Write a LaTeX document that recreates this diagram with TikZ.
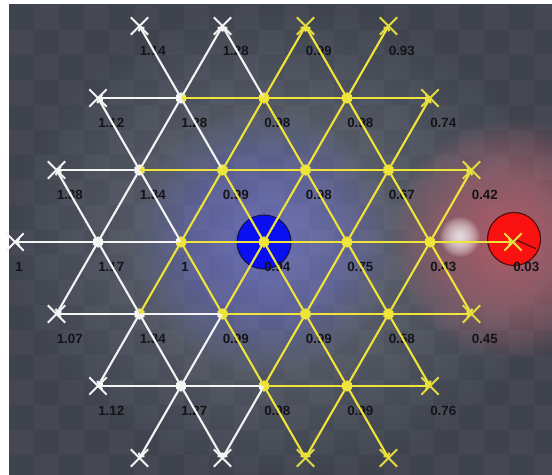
\documentclass[tikz,border=0pt]{standalone}
\usepackage{fontspec}
\newfontfamily\costfont{Liberation Sans}
\usepackage{xcolor}
\definecolor{bgdark}{HTML}{3F434E}
\definecolor{bgmid}{HTML}{6A6E7B}
\definecolor{edgeWhite}{HTML}{F4F4F4}
\definecolor{edgeYellow}{HTML}{EEE43A}
\definecolor{glowBlue}{HTML}{8088E8}
\definecolor{glowRed}{HTML}{E27A86}
\definecolor{startBlue}{HTML}{0A0FF2}
\definecolor{rimBlue}{HTML}{141450}
\definecolor{goalRed}{HTML}{FA1212}
\definecolor{rimRed}{HTML}{4A0E0E}
\definecolor{labelInk}{HTML}{141418}
\usetikzlibrary{calc,arrows.meta,shapes.misc}

\begin{document}
\begin{tikzpicture}[x=0.025cm, y=0.025cm, >={Straight Barb[length=2pt,width=4.5pt]},
    edgeW/.style={<->, line width=1.5pt, edgeWhite},
    edgeY/.style={<->, line width=1.5pt, edgeYellow},
    xmark/.style={cross out, draw, line width=1.3pt, minimum size=11pt, inner sep=0pt},
    cost/.style={anchor=west, inner sep=0pt, labelInk, font=\costfont\bfseries\fontsize{9.5}{11}\selectfont}]
    % Parameters
    \def\ux{41.5}  % half step along a row
    \def\uy{72}    % row height
    \def\ox{264}   % start cell
    \def\oy{232}

    % Canvas
    \useasboundingbox (0,0) rectangle (552,474);
    \fill[white] (0,0) rectangle (552,474);
    \shade[inner color=bgmid, outer color=bgdark] (9,0) rectangle (552,469);
    \begin{scope}
        \clip (9,0) rectangle (552,469);
        \foreach \i in {0,...,21} {
            \foreach \j in {0,...,18} {
                \pgfmathtruncatemacro{\odd}{mod(\i+\j,2)}
                \ifnum\odd=1
                    \fill[white, opacity=0.03] ({9+\i*25}, {469-(\j+1)*25}) rectangle ++(25,25);
                \fi
            }
        }
    \end{scope}

    % Lattice cells with their costs
    \def\costs{-3/3/1.14, -1/3/1.28, 1/3/0.99, 3/3/0.93,
        -4/2/1.12, -2/2/1.28, 0/2/0.98, 2/2/0.98, 4/2/0.74,
        -5/1/1.38, -3/1/1.34, -1/1/0.99, 1/1/0.98, 3/1/0.67, 5/1/0.42,
        -6/0/1, -4/0/1.17, -2/0/1, 0/0/0.94, 2/0/0.75, 4/0/0.43, 6/0/0.03,
        -5/-1/1.07, -3/-1/1.34, -1/-1/0.99, 1/-1/0.99, 3/-1/0.58, 5/-1/0.45,
        -4/-2/1.12, -2/-2/1.27, 0/-2/0.98, 2/-2/0.99, 4/-2/0.76}
    \foreach \col/\row/\t in \costs {
        \coordinate (v\col r\row) at ({\ox+\col*\ux}, {\oy+\row*\uy});
    }
    \foreach \col in {-3,-1,1,3} {
        \coordinate (v\col r-3) at ({\ox+\col*\ux}, {\oy-3*\uy});
    }
    \coordinate (goal) at (514,235);
    \coordinate (spark) at (460,237);

    % Glows
    \foreach \rr in {132,129,...,3} {
        \fill[glowBlue, opacity=0.025] (v0r0) circle (\rr);
    }
    \foreach \rr in {120,117,...,3} {
        \fill[glowRed, opacity=0.03] (goal) circle (\rr);
    }
    \foreach \rr in {20,19,...,1} {
        \fill[white, opacity=0.08] (spark) circle (\rr);
    }

    % Start and goal discs
    \draw[fill=startBlue, draw=rimBlue, line width=0.8pt] (v0r0) circle (27);
    \draw[fill=goalRed, draw=rimRed, line width=0.8pt] (goal) circle (26.5);
    \draw[rimRed, line width=0.8pt] (goal) -- ++(-24:24);

    % Cost labels
    \foreach \col/\row/\t in \costs {
        \node[cost] at ($(v\col r\row)+(0,-25)$) {\t};
    }

    % Edges
    \foreach \p/\q in {v-4r2/v-2r2, v-5r1/v-3r1, v-6r0/v-4r0, v-4r0/v-2r0,
        v-5r-1/v-3r-1, v-3r-1/v-1r-1, v-4r-2/v-2r-2, v-2r-2/v0r-2,
        v-3r3/v-2r2, v-1r3/v-2r2, v-1r3/v0r2,
        v-4r2/v-3r1, v-2r2/v-3r1, v-2r2/v-1r1,
        v-5r1/v-4r0, v-3r1/v-4r0, v-3r1/v-2r0,
        v-4r0/v-5r-1, v-4r0/v-3r-1,
        v-3r-1/v-4r-2, v-3r-1/v-2r-2, v-1r-1/v-2r-2,
        v-2r-2/v-3r-3, v-2r-2/v-1r-3, v0r-2/v-1r-3} {
        \draw[edgeW] (\p) -- (\q);
    }
    \foreach \p/\q in {v-2r2/v0r2, v0r2/v2r2, v2r2/v4r2,
        v-3r1/v-1r1, v-1r1/v1r1, v1r1/v3r1, v3r1/v5r1,
        v-2r0/v0r0, v0r0/v2r0, v2r0/v4r0, v4r0/v6r0,
        v-1r-1/v1r-1, v1r-1/v3r-1, v3r-1/v5r-1,
        v0r-2/v2r-2, v2r-2/v4r-2,
        v1r3/v0r2, v1r3/v2r2, v3r3/v2r2,
        v0r2/v-1r1, v0r2/v1r1, v2r2/v1r1, v2r2/v3r1, v4r2/v3r1,
        v-1r1/v-2r0, v-1r1/v0r0, v1r1/v0r0, v1r1/v2r0, v3r1/v2r0, v3r1/v4r0, v5r1/v4r0,
        v-2r0/v-3r-1, v-2r0/v-1r-1, v0r0/v-1r-1, v0r0/v1r-1, v2r0/v1r-1, v2r0/v3r-1, v4r0/v3r-1, v4r0/v5r-1,
        v-1r-1/v0r-2, v1r-1/v0r-2, v1r-1/v2r-2, v3r-1/v2r-2, v3r-1/v4r-2,
        v0r-2/v1r-3, v2r-2/v1r-3, v2r-2/v3r-3} {
        \draw[edgeY] (\p) -- (\q);
    }

    % Frontier marks
    \foreach \p in {v-3r3, v-1r3, v-4r2, v-5r1, v-6r0, v-5r-1, v-4r-2, v-3r-3, v-1r-3} {
        \node[xmark, draw=edgeWhite] (m\p) at (\p) {};
    }
    \foreach \p in {v1r3, v3r3, v4r2, v5r1, v6r0, v5r-1, v4r-2, v3r-3, v1r-3} {
        \node[xmark, draw=edgeYellow!92!gray] (m\p) at (\p) {};
    }
\end{tikzpicture}
\end{document}
